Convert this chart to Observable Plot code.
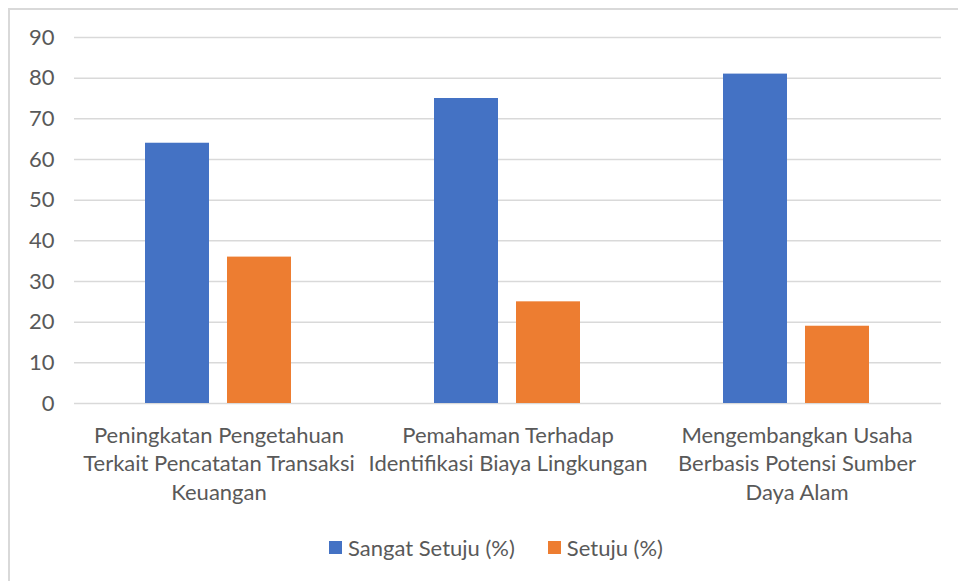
<!DOCTYPE html>
<html>
<head>
<meta charset="utf-8">
<script src="https://cdn.jsdelivr.net/npm/d3@7"></script>
<script src="https://cdn.jsdelivr.net/npm/@observablehq/plot@0.6"></script>
<style>
  html, body { margin: 0; padding: 0; background: #fff; width: 958px; height: 581px; overflow: hidden; }
  #frame { position: absolute; left: 8px; top: 8px; right: 0; bottom: 0; border-left: 2px solid #d9d9d9; border-top: 2px solid #d9d9d9; pointer-events: none; }
  #chart { position: relative; height: 520px; }
  #legend { display: flex; justify-content: center; align-items: center; gap: 33px; margin-top: 15px; height: 24px;
            font-family: Lato, "Open Sans", sans-serif; font-size: 22px; color: #595959; padding-left: 34px; }
  .item { display: flex; align-items: center; gap: 6px; }
  .sw { width: 13px; height: 13px; display: inline-block; }
</style>
</head>
<body>
<div id="frame"></div>
<div id="chart"></div>
<div id="legend"></div>
<script>
const categories = [
  "Peningkatan Pengetahuan Terkait Pencatatan Transaksi Keuangan",
  "Pemahaman Terhadap Identifikasi Biaya Lingkungan",
  "Mengembangkan Usaha Berbasis Potensi Sumber Daya Alam"
];
const categoryLabels = [
  "Peningkatan Pengetahuan\nTerkait Pencatatan Transaksi\nKeuangan",
  "Pemahaman Terhadap\nIdentifikasi Biaya Lingkungan",
  "Mengembangkan Usaha\nBerbasis Potensi Sumber\nDaya Alam"
];
const series = ["Sangat Setuju (%)", "Setuju (%)"];
const sangatSetuju = [64, 75, 81];
const setuju = [36, 25, 19];
const yTicks = [0, 10, 20, 30, 40, 50, 60, 70, 80, 90];
const colors = ["#4472C4", "#ED7D31"];

const data = categories.flatMap((c, i) => [
  {category: c, series: series[0], value: sangatSetuju[i]},
  {category: c, series: series[1], value: setuju[i]}
]);
const labelOf = new Map(categories.map((c, i) => [c, categoryLabels[i]]));

const H = 520;
const chart = Plot.plot({
  width: 958,
  height: H,
  marginLeft: 73,
  marginRight: 17,
  marginTop: 37,
  marginBottom: H - 403,
  style: {fontFamily: "Lato, 'Open Sans', sans-serif", color: "#595959", background: "transparent"},
  fx: {domain: categories, padding: 0, label: null},
  x: {domain: series, axis: null, paddingInner: 0.217, paddingOuter: 0.85},
  y: {domain: [0, 90], label: null},
  color: {domain: series, range: colors},
  marks: [
    Plot.gridY(yTicks, {stroke: "#d9d9d9", strokeOpacity: 1, strokeWidth: 1.5}),
    Plot.barY(data, {fx: "category", x: "series", y: "value", fill: "series"}),
    Plot.axisY(yTicks, {tickSize: 0, tickPadding: 20, fontSize: 22, fill: "#595959", label: null}),
    Plot.axisFx({anchor: "bottom", tickSize: 0, tickPadding: 19, fontSize: 22, lineHeight: 1.3, fill: "#595959", label: null,
                 tickFormat: d => labelOf.get(d)})
  ]
});
document.getElementById("chart").appendChild(chart);

const legend = document.getElementById("legend");
series.forEach((s, i) => {
  const item = document.createElement("span");
  item.className = "item";
  const sw = document.createElement("span");
  sw.className = "sw";
  sw.style.background = colors[i];
  const t = document.createElement("span");
  t.textContent = s;
  item.appendChild(sw);
  item.appendChild(t);
  legend.appendChild(item);
});
</script>
</body>
</html>
